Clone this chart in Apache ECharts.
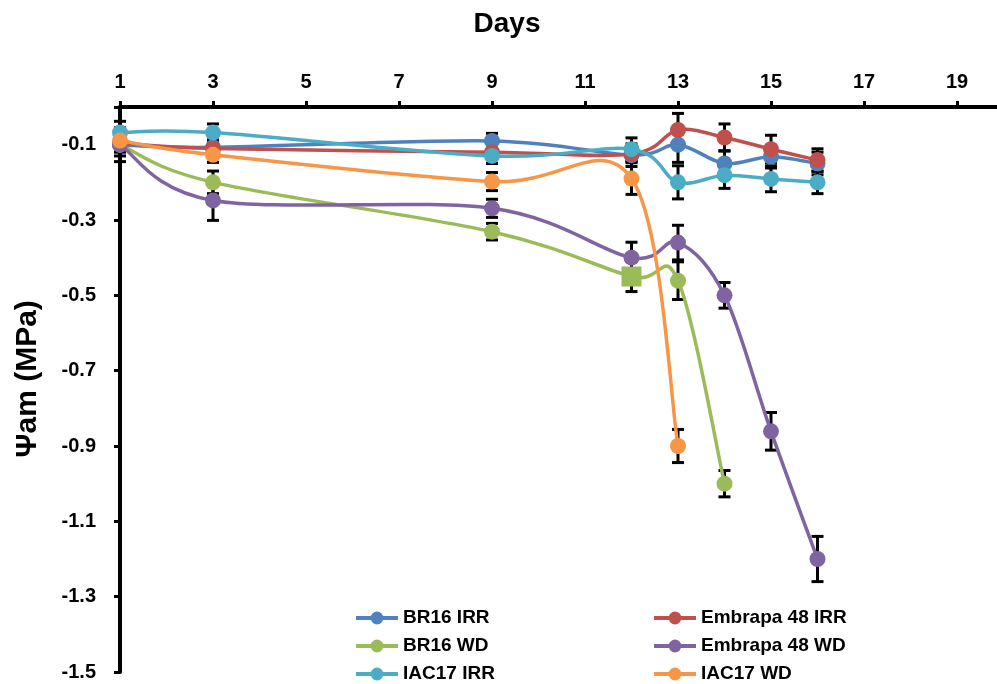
<!DOCTYPE html>
<html><head><meta charset="utf-8">
<script src="https://cdn.jsdelivr.net/npm/echarts@6/dist/echarts.min.js"></script>
<style>html,body{margin:0;padding:0;background:#fff}#c{width:997px;height:684px}</style>
</head><body><div id="c"></div>
<script>
// ---- data ----
const seriesNames = ['BR16 IRR', 'Embrapa 48 IRR', 'BR16 WD', 'Embrapa 48 WD', 'IAC17 IRR', 'IAC17 WD'];
const seriesColors = ['#4F81BD', '#C0504D', '#9BBB59', '#8064A2', '#4BACC6', '#F79646'];

const br16IrrDays = [1, 3, 9, 12, 13, 14, 15, 16];
const br16IrrVals = [-0.10, -0.107, -0.09, -0.128, -0.10, -0.15, -0.132, -0.15];
const br16IrrErr  = [0.02, 0.02, 0.02, 0.03, 0.047, 0.034, 0.03, 0.03];

const emb48IrrDays = [1, 3, 9, 12, 13, 14, 15, 16];
const emb48IrrVals = [-0.095, -0.11, -0.12, -0.125, -0.061, -0.081, -0.112, -0.141];
const emb48IrrErr  = [0.02, 0.02, 0.02, 0.02, 0.044, 0.036, 0.037, 0.03];

const br16WdDays = [1, 3, 9, 12, 13, 14];
const br16WdVals = [-0.10, -0.20, -0.331, -0.45, -0.461, -1.0];
const br16WdErr  = [0.03, 0.03, 0.022, 0.04, 0.05, 0.035];

const emb48WdDays = [1, 3, 9, 12, 13, 14, 15, 16];
const emb48WdVals = [-0.10, -0.248, -0.269, -0.40, -0.36, -0.50, -0.861, -1.20];
const emb48WdErr  = [0.045, 0.053, 0.024, 0.041, 0.046, 0.034, 0.05, 0.06];

const iac17IrrDays = [1, 3, 9, 12, 13, 14, 15, 16];
const iac17IrrVals = [-0.068, -0.068, -0.13, -0.112, -0.20, -0.181, -0.191, -0.20];
const iac17IrrErr  = [0.03, 0.023, 0.02, 0.03, 0.044, 0.035, 0.034, 0.03];

const iac17WdDays = [1, 3, 9, 12, 13];
const iac17WdVals = [-0.089, -0.127, -0.198, -0.19, -0.90];
const iac17WdErr  = [0.02, 0.02, 0.024, 0.042, 0.044];

const xTickLabels = [1, 3, 5, 7, 9, 11, 13, 15, 17, 19];
const yTickLabels = [-1.5, -1.3, -1.1, -0.9, -0.7, -0.5, -0.3, -0.1];

const allDays = [br16IrrDays, emb48IrrDays, br16WdDays, emb48WdDays, iac17IrrDays, iac17WdDays];
const allVals = [br16IrrVals, emb48IrrVals, br16WdVals, emb48WdVals, iac17IrrVals, iac17WdVals];
const allErr  = [br16IrrErr, emb48IrrErr, br16WdErr, emb48WdErr, iac17IrrErr, iac17WdErr];

// ---- chart ----
const FONT = '"Liberation Sans", Arial, sans-serif';
const chart = echarts.init(document.getElementById('c'), null, {renderer: 'canvas'});

const series = [];
seriesNames.forEach((name, i) => {
  const days = allDays[i], vals = allVals[i], errs = allErr[i];
  // error bars
  series.push({
    type: 'custom',
    name: name + ' err',
    z: 1,
    silent: true,
    renderItem: function (params, api) {
      const x = api.value(0), y = api.value(1), e = api.value(2);
      const top = api.coord([x, y + e]);
      const bot = api.coord([x, y - e]);
      const hw = 6;
      const st = {stroke: '#000', lineWidth: 3};
      return {
        type: 'group',
        children: [
          {type: 'line', shape: {x1: top[0], y1: top[1], x2: bot[0], y2: bot[1]}, style: st},
          {type: 'line', shape: {x1: top[0] - hw, y1: top[1], x2: top[0] + hw, y2: top[1]}, style: st},
          {type: 'line', shape: {x1: bot[0] - hw, y1: bot[1], x2: bot[0] + hw, y2: bot[1]}, style: st}
        ]
      };
    },
    encode: {x: 0, y: 1},
    data: days.map((d, k) => [d, vals[k], errs[k]])
  });
  // smoothed curve (Catmull-Rom style, like spreadsheet smoothing), positioned via axis scales
  series.push({
    type: 'custom',
    name: name + ' curve',
    z: 2 + i,
    silent: true,
    renderItem: function (params, api) {
      if (params.dataIndex !== 0) return null;
      const pts = days.map((d, k) => api.coord([d, vals[k]]));
      const n = pts.length;
      let path = 'M' + pts[0][0] + ' ' + pts[0][1];
      for (let k = 0; k < n - 1; k++) {
        const p0 = pts[Math.max(k - 1, 0)], p1 = pts[k], p2 = pts[k + 1], p3 = pts[Math.min(k + 2, n - 1)];
        const c1x = p1[0] + (p2[0] - p0[0]) / 6, c1y = p1[1] + (p2[1] - p0[1]) / 6;
        const c2x = p2[0] - (p3[0] - p1[0]) / 6, c2y = p2[1] - (p3[1] - p1[1]) / 6;
        path += ' C' + c1x + ' ' + c1y + ' ' + c2x + ' ' + c2y + ' ' + p2[0] + ' ' + p2[1];
      }
      return {
        type: 'path',
        shape: {pathData: path},
        style: {stroke: seriesColors[i], lineWidth: 3.5, fill: null, lineCap: 'round', lineJoin: 'round'}
      };
    },
    encode: {x: 0, y: 1},
    data: days.map((d, k) => [d, vals[k]])
  });
  // markers (line hidden; curve drawn above)
  series.push({
    type: 'line',
    name: name,
    z: 2 + i,
    symbol: 'circle',
    symbolSize: 16,
    lineStyle: {width: 3.5, color: seriesColors[i], opacity: 0},
    itemStyle: {color: seriesColors[i]},
    data: days.map((d, k) => {
      if (name === 'BR16 WD' && d === 12) {
        return {value: [d, vals[k]], symbol: 'rect', symbolSize: 20};
      }
      return [d, vals[k]];
    })
  });
});

const legendText = {fontFamily: FONT, fontWeight: 'bold', fontSize: 19, color: '#000', lineHeight: 20};
const legendPos = [[354, 608], [652, 608], [354, 636], [652, 636], [354, 664], [652, 664]];
const legends = seriesNames.map((nm, i) => ({
  data: [nm],
  left: legendPos[i][0], top: legendPos[i][1],
  itemWidth: 42, itemHeight: 16, itemGap: 4, padding: 0,
  textStyle: legendText, selectedMode: false,
  lineStyle: {opacity: 1, width: 4}
}));

chart.setOption({
  animation: false,
  backgroundColor: '#fff',
  color: seriesColors,
  grid: {left: 120, top: 107, width: 883.5, bottom: 12, containLabel: false, outerBoundsMode: 'none'},
  xAxis: {
    type: 'value', position: 'top', min: 1, max: 20, interval: 2,
    splitLine: {show: false},
    axisLine: {onZero: false, lineStyle: {color: '#000', width: 4}},
    axisTick: {show: true, inside: false, length: 6, lineStyle: {color: '#000', width: 3}},
    axisLabel: {
      margin: 15, color: '#000', fontFamily: FONT, fontWeight: 'bold', fontSize: 20,
      formatter: v => (xTickLabels.indexOf(Math.round(v * 100) / 100) >= 0 ? String(Math.round(v)) : '')
    }
  },
  yAxis: {
    type: 'value', min: -1.5, max: 0, interval: 0.2,
    splitLine: {show: false},
    axisLine: {onZero: false, lineStyle: {color: '#000', width: 4}},
    axisTick: {show: true, inside: false, length: 6, lineStyle: {color: '#000', width: 3}},
    axisLabel: {
      margin: 24, color: '#000', fontFamily: FONT, fontWeight: 'bold', fontSize: 20,
      formatter: v => {
        const r = Math.round(v * 10) / 10;
        return yTickLabels.indexOf(r) >= 0 ? r.toFixed(1) : '';
      }
    }
  },
  legend: legends,
  graphic: [
    {type: 'text', x: 507, y: 24, style: {text: 'Days', font: 'bold 28px ' + FONT, fill: '#000', textAlign: 'center', textVerticalAlign: 'middle'}},
    {type: 'text', x: 28, y: 379, rotation: Math.PI / 2, style: {text: 'Ψam (MPa)', font: 'bold 30px ' + FONT, fill: '#000', textAlign: 'center', textVerticalAlign: 'middle'}}
  ],
  series: series
});
</script>
</body></html>
